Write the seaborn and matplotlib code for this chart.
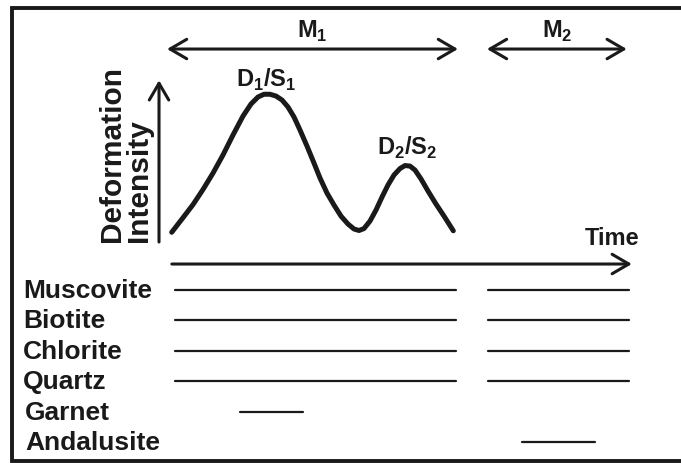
import matplotlib
matplotlib.use("Agg")
import matplotlib.pyplot as plt
from matplotlib.lines import Line2D
import seaborn as sns
import pandas as pd

# Deformation curve (time in arbitrary units 0-100, intensity 0-1)
curve_time = [0.37, 2.61, 5.00, 7.17, 9.35, 11.52, 13.70, 15.87, 17.61, 19.13, 20.43,
              21.74, 23.04, 24.35, 25.65, 26.96, 28.26, 29.78, 31.30, 32.61, 34.13,
              35.65, 37.17, 38.70, 40.00, 41.09, 42.17, 43.48, 44.78, 46.09, 47.39,
              48.70, 50.00, 51.09, 52.17, 53.26, 54.57, 56.09, 57.83, 59.57, 61.59]
curve_intensity = [-0.009, 0.088, 0.193, 0.303, 0.423, 0.555, 0.701, 0.839, 0.927, 0.978,
                   0.998, 0.998, 0.985, 0.956, 0.905, 0.832, 0.737, 0.620, 0.496, 0.387,
                   0.277, 0.190, 0.109, 0.051, 0.015, 0.004, 0.018, 0.073, 0.153, 0.248,
                   0.336, 0.409, 0.456, 0.478, 0.474, 0.445, 0.380, 0.292, 0.197, 0.109,
                   0.002]

# Metamorphic events
events = ["M_1", "M_2"]
event_start = [-0.65, 68.9]
event_end = [62.6, 99.3]

# Mineral growth ranges
minerals = ["Muscovite", "Biotite", "Chlorite", "Quartz", "Garnet", "Andalusite"]
seg_mineral = ["Muscovite", "Biotite", "Chlorite", "Quartz", "Garnet",
               "Muscovite", "Biotite", "Chlorite", "Quartz", "Andalusite"]
seg_start = [1.1, 1.1, 1.1, 1.1, 15.2, 69.1, 69.1, 69.1, 69.1, 76.5]
seg_end = [62.2, 62.2, 62.2, 62.2, 28.9, 99.8, 99.8, 99.8, 99.8, 92.4]

INK = "#1a1a1a"

sns.set_theme(style="white")
plt.rcParams["font.family"] = ["Liberation Sans", "DejaVu Sans"]
plt.rcParams["mathtext.fontset"] = "custom"
plt.rcParams["mathtext.rm"] = "Liberation Sans"
plt.rcParams["mathtext.bf"] = "Liberation Sans:bold"

fig = plt.figure(figsize=(6.81, 4.64), dpi=100)
ax1 = fig.add_axes([0, 0.4612, 1, 0.5388])
ax2 = fig.add_axes([0, 0, 1, 0.4612])
for ax in (ax1, ax2):
    ax.set_xlim(-36.96, 111.09)
    ax.axis("off")
ax1.set_ylim(-0.131, 1.693)
ax2.set_ylim(5.691, -1.349)

# frame: top, left and bottom only (right side is cut off in the source)
left, top, bottom = 11.7 / 681, 1 - 9.2 / 464, 2 / 464
fig.add_artist(Line2D([1.0, left, left, 1.0], [top, top, bottom, bottom],
                      transform=fig.transFigure, lw=2.8, color=INK,
                      solid_joinstyle="miter", solid_capstyle="butt"))

# deformation curve
curve = pd.DataFrame({"time": curve_time, "intensity": curve_intensity})
sns.lineplot(data=curve, x="time", y="intensity", ax=ax1, color=INK, lw=3.6,
             estimator=None, sort=False, solid_joinstyle="round")

arrow = dict(arrowstyle="->,head_length=1.2,head_width=0.7", lw=2.2, color=INK,
             shrinkA=0, shrinkB=0, mutation_scale=10)
double = dict(arrow, arrowstyle="<->,head_length=1.2,head_width=0.7")

# y axis arrow
ax1.annotate("", xy=(-2.39, 1.10), xytext=(-2.39, -0.08), arrowprops=arrow)
ax1.text(-9.6, -0.073, "Deformation\nIntensity", rotation=90, ha="center", va="bottom",
         multialignment="left", linespacing=0.95, fontsize=21.5, fontweight="bold", color=INK)

# events
for name, s, e in zip(events, event_start, event_end):
    ax1.annotate("", xy=(s, 1.328), xytext=(e, 1.328), arrowprops=double)
    lab = name.split("_")
    ax1.text((s + e) / 2, 1.42, r"$\mathbf{%s}_\mathbf{%s}$" % (lab[0], lab[1]),
             ha="center", va="baseline", fontsize=17, color=INK)

ax1.text(21.0, 1.058, r"$\mathbf{D}_\mathbf{1}\mathbf{/S}_\mathbf{1}$",
         ha="center", va="baseline", fontsize=17, color=INK)
ax1.text(51.6, 0.562, r"$\mathbf{D}_\mathbf{2}\mathbf{/S}_\mathbf{2}$",
         ha="center", va="baseline", fontsize=17, color=INK)
ax1.text(96.1, -0.095, "Time", ha="center", va="baseline", fontsize=17,
         fontweight="bold", color=INK)

# time arrow
ax2.annotate("", xy=(100.4, -0.855), xytext=(0.4, -0.855), arrowprops=arrow)

# mineral ranges
rows = []
for i, (m, s, e) in enumerate(zip(seg_mineral, seg_start, seg_end)):
    r = minerals.index(m)
    rows.append({"seg": i, "time": s, "row": r})
    rows.append({"seg": i, "time": e, "row": r})
segs = pd.DataFrame(rows)
sns.lineplot(data=segs, x="time", y="row", units="seg", estimator=None, ax=ax2,
             color=INK, lw=1.6, sort=False)

for r, m in enumerate(minerals):
    x0 = -32.0 if r < 4 else -31.5
    ax2.text(x0, r, m, ha="left", va="center", fontsize=19, fontweight="bold", color=INK)

fig.savefig("out.png", dpi=100)
